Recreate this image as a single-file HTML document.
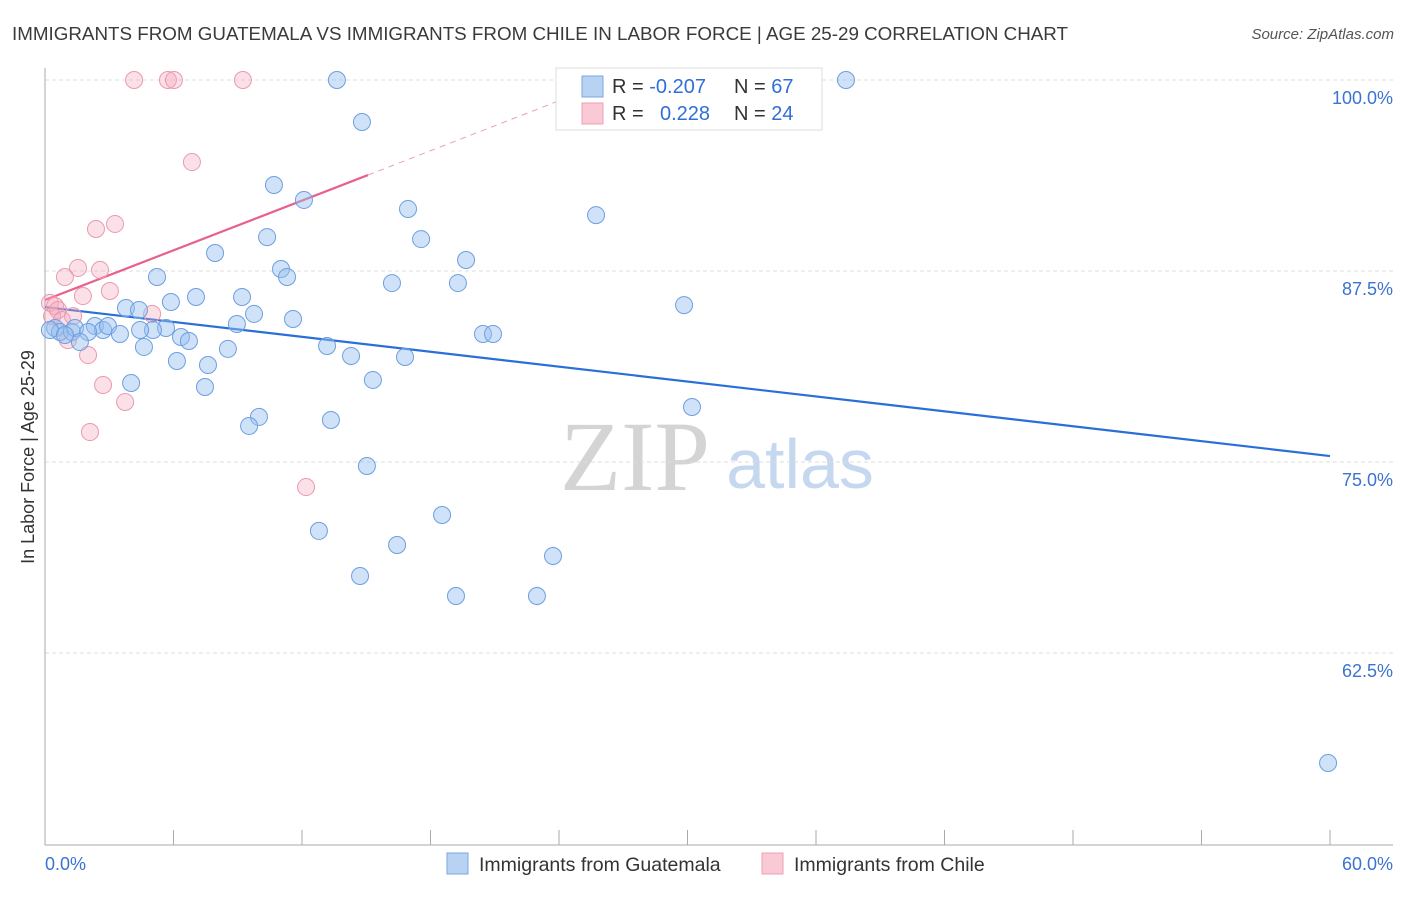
<!DOCTYPE html>
<html><head><meta charset="utf-8"><style>
body{margin:0;background:#fff;font-family:"Liberation Sans",sans-serif}
svg text{font-family:"Liberation Sans",sans-serif}
</style></head><body>
<svg id="chart" width="1406" height="892" viewBox="0 0 1406 892" xmlns="http://www.w3.org/2000/svg">
<text x="12" y="40" font-size="18.5" fill="#3a3a3a" textLength="1056" lengthAdjust="spacingAndGlyphs">IMMIGRANTS FROM GUATEMALA VS IMMIGRANTS FROM CHILE IN LABOR FORCE | AGE 25-29 CORRELATION CHART</text>
<text x="1394" y="39" font-size="15" font-style="italic" fill="#555" text-anchor="end">Source: ZipAtlas.com</text>
<g>
<text x="635" y="490" font-size="100" style="font-family:'Liberation Serif',serif" fill="#d4d4d4" text-anchor="middle">ZIP</text>
<text x="800" y="488" font-size="70" fill="#c5d8f0" text-anchor="middle">atlas</text>
</g>
<g id="grid"></g>
<g id="axes"></g>
<g id="lines"></g>
<g id="pts"></g>
<text transform="translate(34,457) rotate(-90)" font-size="18" fill="#333" text-anchor="middle">In Labor Force | Age 25-29</text>
<g>
<rect x="556" y="68" width="266" height="62" fill="#fff" stroke="#ddd"/>
<rect x="582" y="76" width="21" height="21" fill="#b8d2f4" stroke="#7aa6e0"/>
<text x="612" y="93" font-size="20" fill="#333">R = <tspan fill="#2f6fd6">-0.207</tspan></text>
<text x="734" y="93" font-size="20" fill="#333">N = <tspan fill="#2f6fd6">67</tspan></text>
<rect x="582" y="103" width="21" height="21" fill="#f9c9d6" stroke="#eea0b6"/>
<text x="612" y="120" font-size="20" fill="#333">R = </text>
<text x="660" y="120" font-size="20" fill="#2f6fd6">0.228</text>
<text x="734" y="120" font-size="20" fill="#333">N = <tspan fill="#2f6fd6">24</tspan></text>
</g>
<g>
<rect x="447" y="853" width="21" height="21" fill="#b8d2f4" stroke="#7aa6e0"/>
<text x="479" y="871" font-size="19.5" fill="#333">Immigrants from Guatemala</text>
<rect x="762" y="853" width="21" height="21" fill="#f9c9d6" stroke="#eea0b6"/>
<text x="794" y="871" font-size="19.5" fill="#333">Immigrants from Chile</text>
</g>
</svg>
<script>
const yTicks=[100,87.5,75,62.5];
const yTickLabels=["100.0%","87.5%","75.0%","62.5%"];
const xTickLabels=["0.0%","60.0%"];
const blueX=[13.63,37.40,14.80,10.69,12.09,16.95,25.73,10.37,17.56,7.94,19.66,11.02,11.30,5.23,16.20,19.28,9.20,7.05,5.88,29.84,3.78,4.39,9.76,11.58,8.96,5.65,5.04,0.47,0.70,1.26,1.40,2.33,2.71,2.94,3.50,2.01,4.44,6.35,6.72,1.63,4.62,8.54,13.17,20.45,20.92,14.29,16.81,6.16,7.61,15.31,4.02,7.47,30.21,9.99,9.53,13.35,15.03,18.54,12.79,16.44,23.72,14.71,19.19,22.97,59.91,0.23,0.93];
const blueY=[100,100,97.25,93.13,92.15,91.56,91.16,89.72,89.59,88.68,88.22,87.63,87.11,87.11,86.71,86.71,85.80,85.80,85.47,85.27,85.08,84.95,84.69,84.36,84.03,83.77,83.64,83.77,83.51,83.51,83.77,83.90,83.64,83.90,83.38,83.51,83.64,83.18,82.92,82.85,82.53,82.40,82.59,83.38,83.38,81.94,81.87,81.61,81.35,80.37,80.17,79.91,78.60,77.95,77.36,77.75,74.74,71.53,70.49,69.57,68.85,67.54,66.23,66.23,55.30,83.64,83.31];
const pinkX=[4.16,5.74,6.02,9.24,6.86,3.27,2.38,1.54,2.57,0.93,1.77,3.03,0.23,0.47,0.61,0.33,0.79,1.31,5.00,1.07,2.01,2.71,3.74,2.10,12.19];
const pinkY=[100,100,100,100,94.63,90.58,90.25,87.70,87.57,87.11,85.86,86.19,85.41,85.21,84.95,84.55,84.29,84.55,84.69,82.98,82.00,80.04,78.93,76.96,73.36];
const blueTrend=[[0,85.14],[60,75.39]];
const pinkTrend=[[0,85.6],[15.08,93.78]];
const pinkTrendDash=[[15.08,93.78],[26.5,100]];
const NS="http://www.w3.org/2000/svg";
const xs=v=>45+v*(1285/60);
const ys=v=>80+(100-v)*(191/12.5);
function mk(tag,attrs,parent){const e=document.createElementNS(NS,tag);for(const k in attrs)e.setAttribute(k,attrs[k]);document.getElementById(parent).appendChild(e);return e;}
yTicks.forEach((t,i)=>{
 const g=mk('line',{x1:45,x2:1393,y1:ys(t),y2:ys(t),stroke:'#ddd','stroke-dasharray':'4,3'},'grid');
 
 
 const l=mk('text',{x:1393,y:ys(t)+24,'font-size':18,fill:'#3b73d0','text-anchor':'end'},'axes');
 l.textContent=yTickLabels[i];
 
 
});
mk('line',{x1:45,x2:45,y1:68,y2:845,stroke:'#aaa'},'axes');
mk('line',{x1:45,x2:1393,y1:845,y2:845,stroke:'#aaa'},'axes');
for(let i=0;i<=10;i++){const t=mk('line',{x1:xs(i*6),x2:xs(i*6),y1:830,y2:845,stroke:'#aaa'},'axes');
 
 }
[[0,'start',45],[60,'end',1393]].forEach((p,i)=>{const l=mk('text',{x:p[2],y:870,'font-size':18,fill:'#3b73d0','text-anchor':p[1]},'axes');l.textContent=xTickLabels[i];
 
 });
function drawPts(X,Y,fill,stroke,name){X.forEach((x,i)=>{const c=mk('circle',{cx:xs(x),cy:ys(Y[i]),r:8.5,fill:fill,stroke:stroke,'stroke-width':1},'pts');
 
 });}
drawPts(pinkX,pinkY,'rgba(245,165,188,0.35)','#e99ab0','chile-point');
drawPts(blueX,blueY,'rgba(150,190,240,0.45)','#6d9fe0','guatemala-point');
const bl=mk('line',{x1:xs(blueTrend[0][0]),y1:ys(blueTrend[0][1]),x2:xs(blueTrend[1][0]),y2:ys(blueTrend[1][1]),stroke:'#2a6fd8','stroke-width':2.2},'lines');


const pl=mk('line',{x1:xs(pinkTrend[0][0]),y1:ys(pinkTrend[0][1]),x2:xs(pinkTrend[1][0]),y2:ys(pinkTrend[1][1]),stroke:'#e8608c','stroke-width':2.2},'lines');


const pd=mk('line',{x1:xs(pinkTrendDash[0][0]),y1:ys(pinkTrendDash[0][1]),x2:xs(pinkTrendDash[1][0]),y2:ys(pinkTrendDash[1][1]),stroke:'#eaa0b8','stroke-width':1,'stroke-dasharray':'6,5'},'lines');


</script>
</body></html>
